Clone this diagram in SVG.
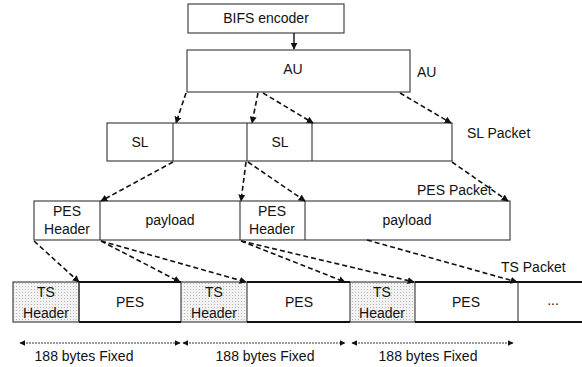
<svg xmlns="http://www.w3.org/2000/svg" width="582" height="367" viewBox="0 0 582 367">
<defs>
<marker id="ah" viewBox="0 0 10 10" refX="9" refY="5" markerWidth="7" markerHeight="7" orient="auto-start-reverse" markerUnits="userSpaceOnUse"><path d="M0,0 L10,5 L0,10 z" fill="#111"/></marker>
<marker id="sh" viewBox="0 0 10 10" refX="9" refY="5" markerWidth="6" markerHeight="6" orient="auto-start-reverse" markerUnits="userSpaceOnUse"><path d="M0,0 L10,5 L0,10 z" fill="#111"/></marker>
<pattern id="dots" width="3" height="3" patternUnits="userSpaceOnUse"><rect width="3" height="3" fill="#f2f2f2"/><rect x="1" y="1" width="1" height="1" fill="#b8b8b8"/></pattern>
</defs>
<style>
.box{fill:#fff;stroke:#333;stroke-width:1.1}
.thick{fill:none;stroke:#111;stroke-width:1.8}
.ts{fill:url(#dots);stroke:#333;stroke-width:1.1}
.t{font-family:"Liberation Sans",Arial,sans-serif;font-size:14px;fill:#111;text-anchor:middle}
.l{font-family:"Liberation Sans",Arial,sans-serif;font-size:14px;fill:#111}
.d{fill:none;stroke:#111;stroke-width:1.6;stroke-dasharray:5,3;marker-end:url(#ah)}
.dim{fill:none;stroke:#333;stroke-width:1;stroke-dasharray:2,1;marker-start:url(#sh);marker-end:url(#sh)}
</style>
<rect width="582" height="367" fill="#fff"/>

<g id="bifs"><rect class="box" x="188" y="4" width="156" height="29"/><text class="t" x="266" y="23">BIFS encoder</text></g>
<g id="au"><rect class="box" x="187" y="50" width="223" height="42"/><text class="t" x="293" y="74">AU</text></g>
<text id="au-label" class="l" x="417" y="77">AU</text>

<g id="sl-packet">
<rect class="box" x="107" y="123" width="345" height="38"/>
<line class="box" x1="173" y1="123" x2="173" y2="161"/>
<line class="box" x1="247" y1="123" x2="247" y2="161"/>
<line class="box" x1="312" y1="123" x2="312" y2="161"/>
<text class="t" x="140" y="147">SL</text>
<text class="t" x="280" y="147">SL</text>
</g>
<text id="sl-label" class="l" x="467" y="138">SL Packet</text>

<g id="pes-packet">
<rect class="box" x="34" y="201" width="476" height="39"/>
<line class="box" x1="100" y1="201" x2="100" y2="240"/>
<line class="box" x1="240" y1="201" x2="240" y2="240"/>
<line class="box" x1="305" y1="201" x2="305" y2="240"/>
<text class="t" x="67" y="216">PES</text><text class="t" x="67" y="234">Header</text>
<text class="t" x="170" y="225">payload</text>
<text class="t" x="272" y="216">PES</text><text class="t" x="272" y="234">Header</text>
<text class="t" x="407" y="225">payload</text>
</g>
<text id="pes-label" class="l" x="417" y="195">PES Packet</text>

<g id="ts-packet">
<rect class="ts" x="13" y="282" width="66" height="40"/>
<rect class="ts" x="181" y="282" width="66" height="40"/>
<rect class="ts" x="350" y="282" width="65" height="40"/>
<line class="thick" x1="79" y1="282" x2="181" y2="282"/>
<line class="thick" x1="79" y1="322" x2="181" y2="322"/>
<line class="thick" x1="247" y1="282" x2="350" y2="282"/>
<line class="thick" x1="247" y1="322" x2="350" y2="322"/>
<line class="thick" x1="415" y1="282" x2="582" y2="282"/>
<line class="thick" x1="415" y1="322" x2="582" y2="322"/>
<line class="box" x1="79" y1="282" x2="79" y2="322"/>
<line class="box" x1="518" y1="282" x2="518" y2="322"/>
<text class="t" x="46" y="297">TS</text><text class="t" x="46" y="318">Header</text>
<text class="t" x="130" y="307">PES</text>
<text class="t" x="214" y="297">TS</text><text class="t" x="214" y="318">Header</text>
<text class="t" x="299" y="307">PES</text>
<text class="t" x="382" y="297">TS</text><text class="t" x="382" y="318">Header</text>
<text class="t" x="466" y="307">PES</text>
<text class="t" x="553" y="305">...</text>
</g>
<text id="ts-label" class="l" x="501" y="272">TS Packet</text>

<g id="connectors">
<line x1="294" y1="33" x2="294" y2="49" stroke="#111" stroke-width="1.4" marker-end="url(#ah)"/>
<line class="d" x1="186" y1="93" x2="176" y2="123"/>
<line class="d" x1="258" y1="93" x2="252" y2="123"/>
<line class="d" x1="263" y1="93" x2="313" y2="123"/>
<line class="d" x1="400" y1="93" x2="451" y2="123"/>
<line class="d" x1="173" y1="162" x2="101" y2="201"/>
<line class="d" x1="246" y1="162" x2="241" y2="201"/>
<line class="d" x1="248" y1="162" x2="305" y2="201"/>
<line class="d" x1="452" y1="162" x2="508" y2="201"/>
<line class="d" x1="34" y1="241" x2="79" y2="282"/>
<line class="d" x1="101" y1="241" x2="180" y2="282"/>
<line class="d" x1="101" y1="241" x2="246" y2="282"/>
<line class="d" x1="241" y1="241" x2="345" y2="282"/>
<line class="d" x1="241" y1="241" x2="414" y2="282"/>
<line class="d" x1="367" y1="240" x2="517" y2="282"/>
<line class="dim" x1="20" y1="343" x2="180" y2="343"/>
<line class="dim" x1="183" y1="343" x2="345" y2="343"/>
<line class="dim" x1="352" y1="343" x2="513" y2="343"/>
</g>
<text class="t" x="84" y="361">188 bytes Fixed</text>
<text class="t" x="265" y="361">188 bytes Fixed</text>
<text class="t" x="428" y="361">188 bytes Fixed</text>
</svg>
